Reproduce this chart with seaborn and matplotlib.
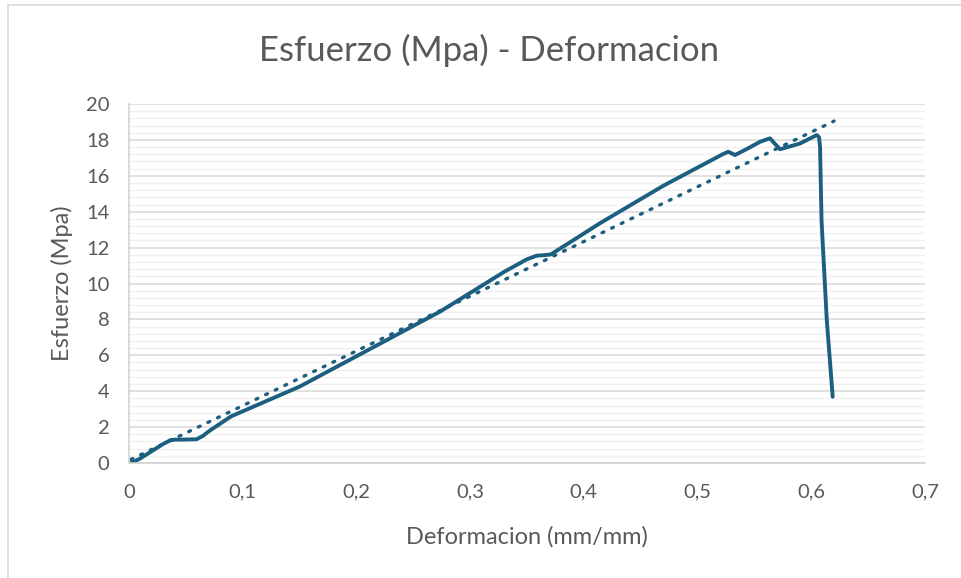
import numpy as np
import pandas as pd
import matplotlib
matplotlib.use("Agg")
import matplotlib.pyplot as plt
import seaborn as sns
from matplotlib.ticker import MultipleLocator, FuncFormatter

# datos
deformacion = [0.002, 0.010, 0.020, 0.030, 0.036, 0.040, 0.045, 0.0595, 0.065, 0.070,
               0.090, 0.150, 0.2735, 0.330, 0.350, 0.3585, 0.365, 0.371, 0.391,
               0.414, 0.470, 0.522, 0.527, 0.533, 0.545, 0.555, 0.5637, 0.567,
               0.5725, 0.590, 0.6048, 0.6068, 0.6077, 0.609, 0.6136, 0.6188]
esfuerzo = [0.0, 0.25, 0.65, 1.05, 1.25, 1.30, 1.30, 1.32, 1.50, 1.75,
            2.60, 4.25, 8.43, 10.65, 11.35, 11.55, 11.58, 11.62, 12.42,
            13.35, 15.45, 17.20, 17.34, 17.16, 17.55, 17.90, 18.09, 17.85,
            17.48, 17.80, 18.27, 18.15, 17.60, 13.50, 7.97, 3.69]

# linea de tendencia (lineal) de Excel
tend_x = [0.002, 0.62]
tend_y = [0.2, 19.05]

color = "#1d5f80"
gris = "#595959"

df = pd.DataFrame({"Deformacion": deformacion, "Esfuerzo": esfuerzo})
tend = pd.DataFrame({"x": tend_x, "y": tend_y})

sns.set_style("white")
plt.rcParams["font.family"] = ["Lato", "DejaVu Sans"]

fig = plt.figure(figsize=(9.61, 5.78), dpi=100)
ax = fig.add_axes([0.134, 0.199, 0.8286, 0.621])

sns.lineplot(data=tend, x="x", y="y", ax=ax, color=color, lw=2.4,
             linestyle=(0, (0.6, 2.6)), dash_capstyle="round")
sns.lineplot(data=df, x="Deformacion", y="Esfuerzo", ax=ax, color=color,
             lw=2.8, sort=False, solid_capstyle="round", solid_joinstyle="round")

ax.set_xlim(0, 0.7)
ax.set_ylim(0, 20)
ax.xaxis.set_major_locator(MultipleLocator(0.1))
ax.yaxis.set_major_locator(MultipleLocator(2))
ax.yaxis.set_minor_locator(MultipleLocator(0.4))
ax.xaxis.set_major_formatter(FuncFormatter(lambda v, p: ("%g" % round(v, 1)).replace(".", ",")))

ax.grid(axis="y", which="major", color="#d9d9d9", lw=1.1)
ax.grid(axis="y", which="minor", color="#f0f0f0", lw=1.0)
ax.set_axisbelow(True)

for s in ["top", "right"]:
    ax.spines[s].set_visible(False)
for s in ["left", "bottom"]:
    ax.spines[s].set_color("#d0d0d0")
    ax.spines[s].set_linewidth(1.1)

ax.tick_params(axis="x", which="major", direction="out", length=6, width=1.1,
               color="#d0d0d0", labelsize=14.5, labelcolor=gris, pad=9)
ax.tick_params(axis="y", which="major", direction="out", length=6, width=1.1,
               color="#d0d0d0", labelsize=14.5, labelcolor=gris, pad=8)
ax.tick_params(axis="y", which="minor", length=0)

ax.set_xlabel("Deformacion (mm/mm)", fontsize=17, color=gris, labelpad=18)
ax.set_ylabel("Esfuerzo (Mpa)", fontsize=17, color=gris, labelpad=9)
fig.text(0.509, 0.913, "Esfuerzo (Mpa) - Deformacion", ha="center", va="center",
         fontsize=25, color=gris)

# borde del area del grafico
fig.add_artist(plt.Line2D([8 / 961, 8 / 961], [0, 1 - 5 / 578], color="#d9d9d9", lw=1.2))
fig.add_artist(plt.Line2D([8 / 961, 1], [1 - 5 / 578, 1 - 5 / 578], color="#d9d9d9", lw=1.2))

fig.savefig("out.png", dpi=100)
